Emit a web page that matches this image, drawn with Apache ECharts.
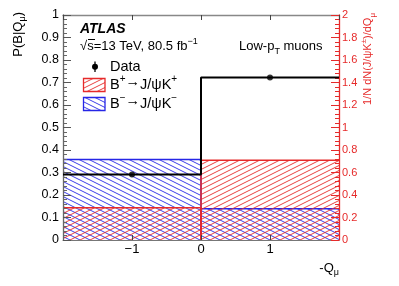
<!DOCTYPE html>
<html>
<head>
<meta charset="utf-8">
<script src="https://cdn.jsdelivr.net/npm/echarts@6/dist/echarts.min.js"></script>
<style>html,body{margin:0;padding:0;background:#fff;}#c{width:399px;height:286px;}</style>
</head>
<body>
<div id="c"></div>
<script>
// ---- data ----
const binEdges = [-2, 0, 2];
const dataValues = [0.291, 0.722];      // P(B|Q), left axis
const bPlusValues = [0.286, 0.708];     // B+ -> J/psi K+, right axis
const bMinusValues = [0.716, 0.277];    // B- -> J/psi K-, right axis
const xTicks = [-2, -1, 0, 1, 2];

const FONT = 'Liberation Sans, Arial, Helvetica, sans-serif';
const RED = '#e62a2a';
const BLUE = '#2626e6';

function makeHatch(color, up) {
  const W = 10, H = 5;
  const c = document.createElement('canvas');
  c.width = W; c.height = H;
  const ctx = c.getContext('2d');
  ctx.strokeStyle = color;
  ctx.lineWidth = 0.9;
  for (let k = -1; k <= 1; k++) {
    ctx.beginPath();
    if (up) {
      ctx.moveTo(-1, H + H / W + k * H);
      ctx.lineTo(W + 1, -H / W + k * H);
    } else {
      ctx.moveTo(-1, -H / W + k * H);
      ctx.lineTo(W + 1, H + H / W + k * H);
    }
    ctx.stroke();
  }
  return c;
}
const redHatch = makeHatch(RED, true);
const blueHatch = makeHatch(BLUE, false);

function binData(vals) {
  return vals.map((v, i) => [binEdges[i], binEdges[i + 1], v]);
}
function stepPoints(vals) {
  const pts = [];
  vals.forEach((v, i) => { pts.push([binEdges[i], v]); pts.push([binEdges[i + 1], v]); });
  return pts;
}
const xMin = binEdges[0], xMax = binEdges[binEdges.length - 1];

function histSeries(name, vals, hatch, color, z) {
  return {
    name, type: 'custom', xAxisIndex: 0, yAxisIndex: 1, z,
    data: binData(vals),
    renderItem(params, api) {
      const x0 = api.value(0), x1 = api.value(1), v = api.value(2);
      const p0 = api.coord([x0, v]);
      const p1 = api.coord([x1, 0]);
      const pts = [];
      if (x0 > xMin) pts.push([p0[0], p1[1]]);
      pts.push([p0[0], p0[1]]);
      pts.push([p1[0], p0[1]]);
      if (x1 < xMax) pts.push([p1[0], p1[1]]);
      return {
        type: 'group',
        children: [
          { type: 'rect', shape: { x: p0[0], y: p0[1], width: p1[0] - p0[0], height: p1[1] - p0[1] },
            style: { fill: { image: hatch, repeat: 'repeat' } } },
          { type: 'polyline', shape: { points: pts }, style: { stroke: color, lineWidth: 1.5, fill: null } }
        ]
      };
    }
  };
}

const fmtLeft = v => (v === 0 || v === 1) ? String(v) : v.toFixed(1);
const fmtRight = v => (Math.abs(v - Math.round(v)) < 1e-9) ? String(Math.round(v)) : v.toFixed(1);
const fmtX = v => v < 0 ? '\u2212' + Math.abs(v) : String(v);

const chart = echarts.init(document.getElementById('c'), null, { renderer: 'canvas' });
function rich(fs, color, extra) {
  return Object.assign({
    fontFamily: FONT, fontSize: fs, lineHeight: fs + 6, fill: color,
    rich: {
      sub: { fontSize: Math.round(fs * 0.7), verticalAlign: 'bottom', fontFamily: FONT, fill: color },
      sup: { fontSize: Math.round(fs * 0.7), verticalAlign: 'top', fontFamily: FONT, fill: color },
      arr: { fontSize: fs, fontFamily: FONT, fill: color, padding: [0, 0, 5, 0] }
    }
  }, extra || {});
}

chart.setOption({
  animation: false,
  backgroundColor: '#fff',
  grid: { left: 63, right: 60, top: 15, bottom: 46, containLabel: false },
  xAxis: [
    { type: 'value', position: 'bottom', min: xTicks[0], max: xTicks[xTicks.length - 1], interval: 1, z: 3,
      axisLine: { show: true, lineStyle: { color: '#777', width: 1 } },
      axisTick: { show: true, inside: true, length: 5, lineStyle: { color: '#444' } },
      minorTick: { show: false },
      splitLine: { show: false },
      axisLabel: { show: true, showMinLabel: false, showMaxLabel: false, formatter: fmtX,
        fontFamily: FONT, fontSize: 13, color: '#000', margin: 3 } },
    { type: 'value', position: 'top', min: xTicks[0], max: xTicks[xTicks.length - 1], interval: 1, z: 3,
      axisLine: { show: true, onZero: false, lineStyle: { color: '#888', width: 1.3 } },
      axisTick: { show: true, inside: true, length: 5, lineStyle: { color: '#444' } },
      splitLine: { show: false }, axisLabel: { show: false } }
  ],
  yAxis: [
    { type: 'value', position: 'left', min: 0, max: 1, interval: 0.1, z: 3,
      axisLine: { show: true, onZero: false, lineStyle: { color: '#666', width: 1.3 } },
      axisTick: { show: true, inside: true, length: 8, lineStyle: { color: '#555' } },
      minorTick: { show: true, splitNumber: 5, length: 4, lineStyle: { color: '#666' } },
      splitLine: { show: false },
      axisLabel: { formatter: fmtLeft, fontFamily: FONT, fontSize: 12.5, color: '#000', margin: 4 } },
    { type: 'value', position: 'right', min: 0, max: 2, interval: 0.2, z: 3,
      axisLine: { show: true, onZero: false, lineStyle: { color: RED, width: 1.3 } },
      axisTick: { show: true, inside: true, length: 8, lineStyle: { color: RED } },
      minorTick: { show: true, splitNumber: 5, length: 4, lineStyle: { color: RED } },
      splitLine: { show: false },
      axisLabel: { formatter: fmtRight, fontFamily: FONT, fontSize: 11, color: RED, margin: 3 } }
  ],
  series: [
    histSeries('B-', bMinusValues, blueHatch, BLUE, 2),
    histSeries('B+', bPlusValues, redHatch, RED, 2),
    { name: 'DataLine', type: 'line', xAxisIndex: 0, yAxisIndex: 0, z: 5,
      data: stepPoints(dataValues), showSymbol: false, symbol: 'none',
      lineStyle: { color: '#000', width: 2 } },
    { name: 'Data', type: 'scatter', xAxisIndex: 0, yAxisIndex: 0, z: 6,
      data: dataValues.map((v, i) => [(binEdges[i] + binEdges[i + 1]) / 2, v]),
      symbol: 'circle', symbolSize: 6, itemStyle: { color: '#000' } }
  ],
  graphic: [
    { type: 'text', x: 80, y: 29, style: { text: 'ATLAS', fontFamily: FONT, fontSize: 14, fontWeight: 'bold', fontStyle: 'italic', fill: '#000', verticalAlign: 'middle', align: 'left' } },
    { type: 'text', x: 80, y: 46.5, style: rich(13, '#000', { text: '\u221As=13 TeV, 80.5 fb{sup|\u22121}', verticalAlign: 'middle', align: 'left' }) },
    { type: 'line', shape: { x1: 88, y1: 39.5, x2: 95, y2: 39.5 }, style: { stroke: '#000', lineWidth: 1 } },
    { type: 'text', x: 239, y: 46.5, style: rich(13, '#000', { text: 'Low-p{sub|T} muons', verticalAlign: 'middle', align: 'left' }) },
    // legend
    { type: 'line', shape: { x1: 95, y1: 61.5, x2: 95, y2: 72 }, style: { stroke: '#000', lineWidth: 1.3 } },
    { type: 'circle', shape: { cx: 95, cy: 66.8, r: 3 }, style: { fill: '#000' } },
    { type: 'text', x: 110, y: 66.5, style: { text: 'Data', fontFamily: FONT, fontSize: 14.5, fill: '#000', verticalAlign: 'middle', align: 'left' } },
    { type: 'rect', shape: { x: 83.5, y: 78.5, width: 21.5, height: 13 }, style: { fill: { image: redHatch, repeat: 'repeat' }, stroke: RED, lineWidth: 1.3 } },
    { type: 'text', x: 110, y: 84.5, style: rich(14.5, '#000', { text: 'B{sup|+}{arr|\u2192}J/\u03C8K{sup|+}', verticalAlign: 'middle', align: 'left' }) },
    { type: 'rect', shape: { x: 83.5, y: 97.5, width: 21.5, height: 13 }, style: { fill: { image: blueHatch, repeat: 'repeat' }, stroke: BLUE, lineWidth: 1.3 } },
    { type: 'text', x: 110, y: 103.5, style: rich(14.5, '#000', { text: 'B{sup|\u2212}{arr|\u2192}J/\u03C8K{sup|\u2212}', verticalAlign: 'middle', align: 'left' }) },
    // axis titles
    { type: 'text', x: 18, y: 12, rotation: Math.PI / 2, style: rich(13, '#000', { text: 'P(B|Q{sub|\u03BC})', verticalAlign: 'middle', align: 'right' }) },
    { type: 'text', x: 368, y: 13, rotation: Math.PI / 2, style: rich(11, RED, { text: '1/N dN(J/\u03C8K{sup|\u00B1})/dQ{sub|\u03BC}', verticalAlign: 'middle', align: 'right' }) },
    { type: 'text', x: 339, y: 268, style: rich(13, '#000', { text: '-Q{sub|\u03BC}', verticalAlign: 'middle', align: 'right' }) }
  ]
});
</script>
</body>
</html>
